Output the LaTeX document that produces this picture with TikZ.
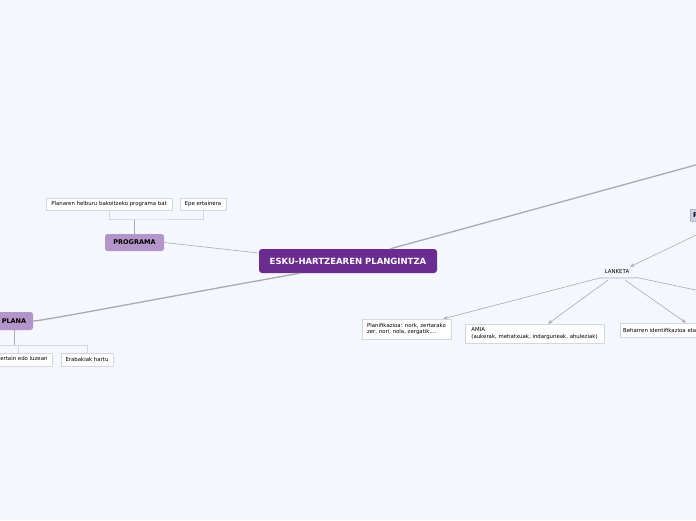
\documentclass[tikz,border=0pt]{standalone}
\usepackage{fontspec}
\setmainfont{DejaVu Sans}
\usetikzlibrary{arrows.meta}

\definecolor{bgblue}{HTML}{F4F7FE}
\definecolor{rootpurple}{HTML}{6A2C91}
\definecolor{lavender}{HTML}{B495CA}
\definecolor{leafline}{HTML}{D3D7DF}
\definecolor{linkgrey}{HTML}{ABABAF}
\definecolor{ulblue}{HTML}{D6DDEA}
\definecolor{pfill}{HTML}{C8D2E2}
\definecolor{pedge}{HTML}{AEB9CB}

\tikzset{
  root/.style={fill=rootpurple, text=white, rounded corners=3pt, font=\bfseries\fontsize{8.5}{9}\selectfont, minimum width=178pt, minimum height=24pt},
  topic/.style={fill=lavender, rounded corners=2.5pt, font=\bfseries\fontsize{6.5}{7}\selectfont, minimum height=17pt, inner sep=2pt},
  leaf/.style={draw=leafline, fill=white, font=\fontsize{5.4}{6.6}\selectfont, inner sep=2.5pt, minimum height=12pt},
  link/.style={draw=linkgrey, line width=0.6pt},
  thick link/.style={draw=linkgrey, line width=1.3pt},
  arrowlink/.style={link, -{Stealth[length=4.5pt,width=3.5pt]}},
  bracket/.style={draw=leafline, line width=0.6pt}
}

\begin{document}
\begin{tikzpicture}[x=1pt, y=-1pt]
    \useasboundingbox (0,0) rectangle (696,520);
    \clip (0,0) rectangle (696,520);
    \fill[bgblue] (0,0) rectangle (696,520);

    % main topics
    \node[root] (root) at (348,261) {ESKU-HARTZEAREN PLANGINTZA};
    \node[topic, minimum width=59pt] (programa) at (134.5,242.5) {PROGRAMA};
    \node[topic, minimum width=38pt, minimum height=18pt] (plana) at (14,321) {PLANA};
    \node[anchor=west, fill=pfill, draw=pedge, font=\bfseries\fontsize{6.5}{7}\selectfont,
          text width=64pt, align=left, minimum height=12pt, inner sep=3pt] (pnode) at (690,215) {P};

    % leaves
    \node[leaf, minimum width=126pt] (helburu) at (109,204) {Planaren helburu bakoitzeko programa bat};
    \node[leaf, minimum width=46pt] (ertainera) at (203,204) {Epe ertainera};
    \node[leaf, minimum width=69pt, minimum height=13pt] (luzean) at (18,359.5) {Epe ertain edo luzean};
    \node[leaf, minimum width=52pt, minimum height=13pt] (erabakiak) at (87,359.5) {Erabakiak hartu};
    \node[font=\fontsize{5.4}{6.6}\selectfont, minimum width=36pt, minimum height=12pt, inner sep=1pt] (lanketa) at (617,272) {LANKETA};
    \node[leaf, align=left, minimum width=89pt, minimum height=20pt] (planif) at (406.5,329)
        {Planifikazioa: nork, zertarako\\zer, nori, nola, zergatik....};
    \node[leaf, align=left, minimum width=139pt, minimum height=19pt] (amia) at (534.5,333.5)
        {AMIA\\(aukerak, mehatxuak, indarguneak, ahuleziak)};
    \node[leaf, anchor=west, minimum width=90pt, minimum height=14pt, text width=84pt, align=left] (beharren) at (620,330)
        {Beharren identifikazioa eta};

    % free ends
    \coordinate (offnorth) at (800,136.4);
    \coordinate (offeast) at (800,312);
    \coordinate (offwest) at (-20,345);
    \coordinate (progjoin) at (134.5,219);
    \coordinate (planajoin) at (14,345);

    % connectors
    \draw[ulblue, line width=1.6pt] (lanketa.south west) -- (lanketa.south east);
    \draw[link] (programa.east) -- ([yshift=8pt]root.west);
    \draw[thick link] ([xshift=41pt]root.south west) .. controls (150,300) and (42,321) .. (plana.east);
    \draw[thick link] ([xshift=-47pt]root.north east) -- (offnorth);
    \draw[arrowlink] (pnode.south) -- ([xshift=13pt,yshift=-1pt]lanketa.north);
    \draw[arrowlink] (lanketa.south west) -- ([xshift=-8pt]planif.north east);
    \draw[arrowlink] ([xshift=9pt,yshift=-2pt]lanketa.south west) -- ([xshift=13.5pt]amia.north);
    \draw[arrowlink] ([xshift=-10pt,yshift=-2pt]lanketa.south east) -- ([xshift=66pt]beharren.north west);
    \draw[link] ([yshift=1pt]lanketa.south east) -- (offeast);

    % brackets
    \draw[link] (programa.north) -- (progjoin);
    \draw[bracket] (helburu.south) |- (progjoin) -| (ertainera.south);
    \draw[link] (plana.south) -- (planajoin);
    \draw[bracket] (offwest) -| (erabakiak.north);
    \draw[bracket] (luzean.north) -- (luzean.north |- offwest);
\end{tikzpicture}
\end{document}
